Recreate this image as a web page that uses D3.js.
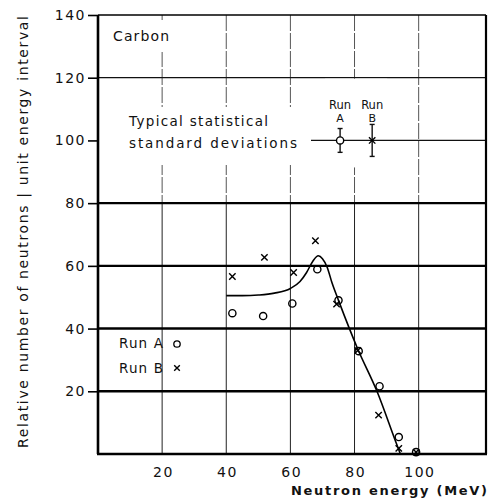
<!DOCTYPE html>
<html>
<head>
<meta charset="utf-8">
<script src="https://cdn.jsdelivr.net/npm/d3@7"></script>
<style>
  html, body { margin: 0; padding: 0; background: #fff; }
  svg { display: block; }
  text { font-family: "DejaVu Sans", sans-serif; fill: #111; }
</style>
</head>
<body>
<svg id="chart" width="490" height="501"></svg>
<script>
// ---------- data ----------
const yTicks = [20, 40, 60, 80, 100, 120, 140];
const xTicks = [20, 40, 60, 80, 100];
const thickRows = [20, 40, 60, 80];

// Run A (circles): [energy MeV, relative number]
const runA = [[41.9, 44.9], [51.5, 44.0], [60.6, 48.0], [68.4, 58.9], [75.0, 49.0],
              [81.3, 32.8], [87.8, 21.6], [93.8, 5.4], [99.2, 0.6]];
// Run B (crosses)
const runB = [[41.9, 56.6], [51.9, 62.7], [61.0, 57.9], [67.8, 68.0], [74.4, 47.8],
              [81.0, 33.0], [87.5, 12.4], [93.8, 1.8], [99.2, 0.6]];
// Smooth fitted curve
const curveData = [[40, 50.5], [45, 50.5], [50, 50.7], [55, 51.3], [60, 52.8], [63, 55.0],
                   [65, 57.8], [67, 61.5], [68.7, 63.2], [70, 62.3], [71.5, 59.5], [73, 54.5],
                   [75, 49.0], [81, 33.5], [87, 20.0], [93, 3.5], [94.3, 0]];
// Typical statistical standard deviations
const stdDev = [{ run: "A", x: 75.5, y: 100, err: 3.8 },
                { run: "B", x: 85.5, y: 100, err: 5.1 }];

const yLabel = "Relative number of neutrons | unit energy interval";
const xLabel = "Neutron energy (MeV)";

// ---------- layout ----------
const svg = d3.select("#chart");
const L = 98, R = 486, T = 15, B = 454;
const x = d3.scaleLinear().domain([0, 121]).range([L, R]);
const y = d3.scaleLinear().domain([0, 140]).range([B, T]);

const grid = svg.append("g");
// vertical grid lines: upper part broken, lower part solid
xTicks.forEach(v => {
  grid.append("line").attr("x1", x(v)).attr("x2", x(v)).attr("y1", y(140)).attr("y2", y(80))
    .attr("stroke", "#555").attr("stroke-width", 1).attr("stroke-dasharray", "16,2");
  grid.append("line").attr("x1", x(v)).attr("x2", x(v)).attr("y1", y(80)).attr("y2", y(0))
    .attr("stroke", "#222").attr("stroke-width", 1);
});
// thin horizontal
grid.append("line").attr("x1", L).attr("x2", R).attr("y1", y(120)).attr("y2", y(120))
  .attr("stroke", "#111").attr("stroke-width", 1.3);

// ---------- white-backed annotations ----------
const ann = svg.append("g");
function boxed(g, pad) {
  const bb = g.node().getBBox();
  g.insert("rect", ":first-child")
    .attr("x", bb.x - pad[3]).attr("y", bb.y - pad[0])
    .attr("width", bb.width + pad[1] + pad[3]).attr("height", bb.height + pad[0] + pad[2])
    .attr("fill", "#fff");
  return bb;
}

const gCarbon = ann.append("g");
gCarbon.append("text").attr("x", 113).attr("y", 41).attr("font-size", 14)
  .attr("textLength", 56).attr("lengthAdjust", "spacing").text("Carbon");
boxed(gCarbon, [8, 6, 8, 6]);

const gTyp = ann.append("g");
gTyp.append("text").attr("x", 129).attr("y", 126).attr("font-size", 13.5)
  .attr("textLength", 139).attr("lengthAdjust", "spacing").text("Typical statistical");
gTyp.append("text").attr("x", 129).attr("y", 148).attr("font-size", 13.5)
  .attr("textLength", 168).attr("lengthAdjust", "spacing").text("standard deviations");
const bbT = gTyp.node().getBBox();
gTyp.insert("rect", ":first-child").attr("x", L + 1).attr("y", bbT.y - 6)
  .attr("width", bbT.x + bbT.width + 14 - L).attr("height", bbT.height + 20).attr("fill", "#fff");

const gRun = ann.append("g");
stdDev.forEach(d => {
  gRun.append("text").attr("x", x(d.x)).attr("y", 108.5).attr("text-anchor", "middle")
    .attr("font-size", 11.5).text("Run");
  gRun.append("text").attr("x", x(d.x)).attr("y", 122).attr("text-anchor", "middle")
    .attr("font-size", 11).text(d.run);
});
const bbR = gRun.node().getBBox();
gRun.insert("rect", ":first-child").attr("x", bbR.x - 4).attr("y", y(120) + 1)
  .attr("width", bbR.width + 8).attr("height", y(100) + 26 - y(120)).attr("fill", "#fff");

// 100 row line (starts right of text box)
svg.append("line").attr("x1", bbT.x + bbT.width + 14).attr("x2", R)
  .attr("y1", y(100)).attr("y2", y(100)).attr("stroke", "#111").attr("stroke-width", 1.3);

// error bars
const eb = svg.append("g").attr("stroke", "#111").attr("stroke-width", 1.4);
stdDev.forEach(d => {
  eb.append("line").attr("x1", x(d.x)).attr("x2", x(d.x))
    .attr("y1", y(d.y + d.err)).attr("y2", y(d.y - d.err));
  [d.y + d.err, d.y - d.err].forEach(v => {
    eb.append("line").attr("x1", x(d.x) - 2.5).attr("x2", x(d.x) + 2.5)
      .attr("y1", y(v)).attr("y2", y(v));
  });
});

// thick horizontal grid
thickRows.forEach(v => {
  svg.append("line").attr("x1", L).attr("x2", R).attr("y1", y(v)).attr("y2", y(v))
    .attr("stroke", "#000").attr("stroke-width", 2.4);
});

// frame
svg.append("line").attr("x1", L).attr("x2", R).attr("y1", T).attr("y2", T)
  .attr("stroke", "#000").attr("stroke-width", 1.6);
svg.append("line").attr("x1", L).attr("x2", L).attr("y1", T).attr("y2", B)
  .attr("stroke", "#000").attr("stroke-width", 2.6);
svg.append("line").attr("x1", R).attr("x2", R).attr("y1", T).attr("y2", B)
  .attr("stroke", "#000").attr("stroke-width", 2.2);
svg.append("line").attr("x1", L - 1).attr("x2", R + 1).attr("y1", B).attr("y2", B)
  .attr("stroke", "#000").attr("stroke-width", 2.6);

// axes
const yAxis = svg.append("g").attr("transform", `translate(${L},0)`)
  .call(d3.axisLeft(y).tickValues(yTicks).tickSize(10).tickPadding(2));
yAxis.select(".domain").remove();
yAxis.selectAll(".tick line").attr("stroke", "#000").attr("stroke-width", 1.6);
yAxis.selectAll(".tick text").attr("font-size", 14).attr("letter-spacing", 1.5)
  .attr("font-family", "DejaVu Sans").attr("fill", "#111");

const xAxis = svg.append("g").attr("transform", `translate(0,${B})`)
  .call(d3.axisBottom(x).tickValues(xTicks).tickSize(0).tickPadding(13));
xAxis.select(".domain").remove();
xAxis.selectAll(".tick text").attr("font-size", 14).attr("letter-spacing", 1.5)
  .attr("font-family", "DejaVu Sans").attr("fill", "#111").attr("dx", "0.75");

// curve
const line = d3.line().x(d => x(d[0])).y(d => y(d[1])).curve(d3.curveMonotoneX);
svg.append("path").datum(curveData).attr("d", line)
  .attr("fill", "none").attr("stroke", "#000").attr("stroke-width", 1.6);

// markers
function cross(g, cx, cy, s) {
  g.append("path").attr("d", `M${cx - s},${cy - s}L${cx + s},${cy + s}M${cx - s},${cy + s}L${cx + s},${cy - s}`)
    .attr("stroke", "#000").attr("stroke-width", 1.4).attr("fill", "none");
}
const mk = svg.append("g");
runA.forEach(d => {
  mk.append("circle").attr("cx", x(d[0])).attr("cy", y(d[1])).attr("r", 3.6)
    .attr("fill", "none").attr("stroke", "#000").attr("stroke-width", 1.4);
});
runB.forEach(d => cross(mk, x(d[0]), y(d[1]), 3.2));

// std-dev markers
mk.append("circle").attr("cx", x(stdDev[0].x)).attr("cy", y(100)).attr("r", 3.6)
  .attr("fill", "#fff").attr("stroke", "#000").attr("stroke-width", 1.4);
cross(mk, x(stdDev[1].x), y(100), 3.2);

// legend
const lg = svg.append("g");
lg.append("text").attr("x", 119).attr("y", 348).attr("font-size", 13.5)
  .attr("textLength", 44).attr("lengthAdjust", "spacing").text("Run A");
lg.append("text").attr("x", 119).attr("y", 373).attr("font-size", 13.5)
  .attr("textLength", 44).attr("lengthAdjust", "spacing").text("Run B");
lg.append("circle").attr("cx", 177).attr("cy", 344).attr("r", 3.2)
  .attr("fill", "none").attr("stroke", "#000").attr("stroke-width", 1.3);
cross(lg, 177, 368, 2.8);

// axis titles
svg.append("text").attr("transform", "translate(28,232) rotate(-90)")
  .attr("text-anchor", "middle").attr("font-size", 14)
  .attr("textLength", 432).attr("lengthAdjust", "spacing").text(yLabel);
svg.append("text").attr("x", 291).attr("y", 495).attr("font-size", 13)
  .attr("font-weight", "bold").attr("textLength", 196).attr("lengthAdjust", "spacing")
  .text(xLabel);
</script>
</body>
</html>
